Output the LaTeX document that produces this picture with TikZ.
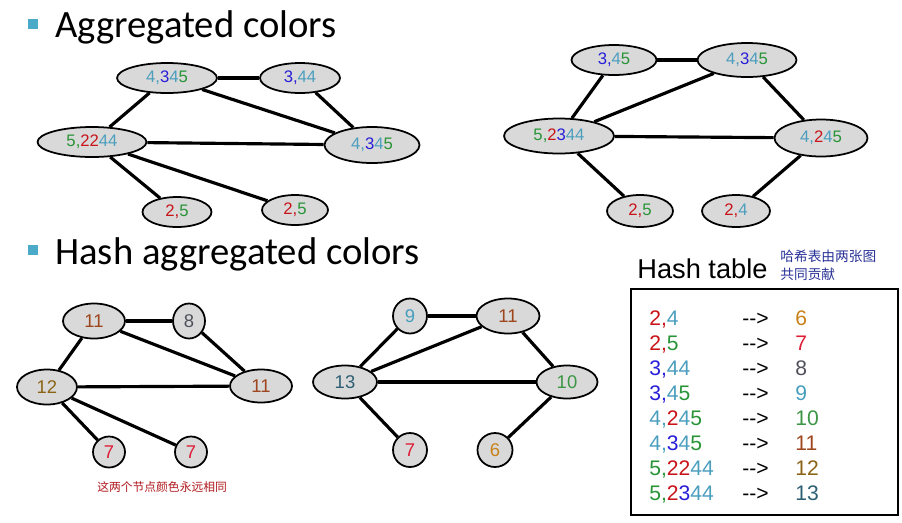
\documentclass[tikz,border=0pt]{standalone}
\usepackage{fontspec}
\setmainfont{Liberation Sans}
\newfontfamily\headfont{Carlito}
\newfontfamily\cjkfont{Noto Sans CJK SC}
\usetikzlibrary{shapes.geometric}

\definecolor{cred}{RGB}{200,20,25}
\definecolor{cblue}{RGB}{40,30,215}
\definecolor{cteal}{RGB}{75,158,190}
\definecolor{cgreen}{RGB}{40,148,55}
\definecolor{hsix}{RGB}{200,130,25}
\definecolor{hseven}{RGB}{222,30,55}
\definecolor{height}{RGB}{80,80,92}
\definecolor{hnine}{RGB}{70,158,190}
\definecolor{hten}{RGB}{60,150,70}
\definecolor{heleven}{RGB}{158,70,30}
\definecolor{htwelve}{RGB}{138,100,20}
\definecolor{hthirteen}{RGB}{45,95,115}
\definecolor{bullet}{RGB}{75,170,200}
\definecolor{nodegray}{RGB}{217,217,217}
\definecolor{noteblue}{RGB}{40,50,150}
\definecolor{notered}{RGB}{175,25,30}

\newcommand{\cR}[1]{\textcolor{cred}{#1}}
\newcommand{\cB}[1]{\textcolor{cblue}{#1}}
\newcommand{\cT}[1]{\textcolor{cteal}{#1}}
\newcommand{\cG}[1]{\textcolor{cgreen}{#1}}

\tikzset{
    agg/.style={ellipse, draw, fill=nodegray, line width=1pt, inner sep=0pt,
        font=\fontsize{9.5}{11}\selectfont},
    hsh/.style={agg, font=\fontsize{10.5}{12}\selectfont},
    link/.style={line width=1.8pt},
    head/.style={anchor=base west, inner sep=0pt, font=\headfont\fontsize{22}{26}\selectfont},
    sq/.style={fill=bullet, minimum size=0.2cm, inner sep=0pt},
    cell/.style={anchor=base west, inner sep=0pt, font=\fontsize{12}{14}\selectfont},
}

\begin{document}
\begin{tikzpicture}[x=0.02cm, y=-0.02cm]
        \useasboundingbox (0,0) rectangle (902,522);

        \node[sq] (s1) at (33,24) {};
        \node[head] (t1) at (55,37) {Aggregated colors};
        \node[sq] (s2) at (33,250) {};
        \node[head] (t2) at (55,264) {Hash aggregated colors};

        \node[agg, minimum width=2cm,    minimum height=0.6cm]  (a1) at (167,78)  {\cT{4,}\cB{3}\cT{4}\cG{5}};
        \node[agg, minimum width=1.6cm,  minimum height=0.6cm]  (a2) at (300,78)  {\cB{3,}\cT{44}};
        \node[agg, minimum width=2.18cm, minimum height=0.6cm]  (a3) at (92,142)  {\cG{5,}\cR{22}\cT{44}};
        \node[agg, minimum width=1.9cm,  minimum height=0.72cm] (a4) at (372,145) {\cT{4,}\cB{3}\cT{4}\cG{5}};
        \node[agg, minimum width=1.38cm, minimum height=0.6cm]  (a5) at (177,212) {\cR{2,}\cG{5}};
        \node[agg, minimum width=1.32cm, minimum height=0.6cm]  (a6) at (295,210) {\cR{2,}\cG{5}};
        \draw[link] (a1) -- (a2);
        \draw[link] (a1) -- (a3);
        \draw[link] (a1) -- (a4);
        \draw[link] (a2) -- (a4);
        \draw[link] (a3) -- (a4);
        \draw[link] (a3) -- (a5);
        \draw[link] (a3) -- (a6);

        \node[agg, minimum width=1.7cm,  minimum height=0.6cm]  (b1) at (614,60)  {\cB{3,}\cT{4}\cG{5}};
        \node[agg, minimum width=1.98cm, minimum height=0.68cm] (b2) at (747,60)  {\cT{4,}\cB{3}\cT{4}\cG{5}};
        \node[agg, minimum width=2.2cm,  minimum height=0.7cm]  (b3) at (559,136) {\cG{5,}\cR{2}\cB{3}\cT{44}};
        \node[agg, minimum width=1.86cm, minimum height=0.74cm] (b4) at (821,138) {\cT{4,}\cR{2}\cT{4}\cG{5}};
        \node[agg, minimum width=1.32cm, minimum height=0.64cm] (b5) at (640,211) {\cR{2,}\cG{5}};
        \node[agg, minimum width=1.36cm, minimum height=0.64cm] (b6) at (736,211) {\cR{2,}\cT{4}};
        \draw[link] (b1) -- (b2);
        \draw[link] (b1) -- (b3);
        \draw[link] (b2) -- (b3);
        \draw[link] (b2) -- (b4);
        \draw[link] (b3) -- (b4);
        \draw[link] (b3) -- (b5);
        \draw[link] (b4) -- (b6);

        \node[hsh, minimum width=1.24cm, minimum height=0.7cm]  (c1) at (94,321)  {\textcolor{heleven}{11}};
        \node[hsh, minimum width=0.64cm, minimum height=0.7cm]  (c2) at (189,321) {\textcolor{height}{8}};
        \node[hsh, minimum width=1.2cm,  minimum height=0.7cm]  (c3) at (47,387)  {\textcolor{htwelve}{12}};
        \node[hsh, minimum width=1.24cm, minimum height=0.66cm] (c4) at (261,386) {\textcolor{heleven}{11}};
        \node[hsh, minimum width=0.64cm, minimum height=0.62cm] (c5) at (109,452) {\textcolor{hseven}{7}};
        \node[hsh, minimum width=0.64cm, minimum height=0.62cm] (c6) at (191,452) {\textcolor{hseven}{7}};
        \draw[link] (c1) -- (c2);
        \draw[link] (c1) -- (c3);
        \draw[link] (c1) -- (c4);
        \draw[link] (c2) -- (c4);
        \draw[link] (c3) -- (c4);
        \draw[link] (c3) -- (c5);
        \draw[link] (c3) -- (c6);

        \node[hsh, minimum width=0.68cm, minimum height=0.7cm]  (d1) at (410,316) {\textcolor{hnine}{9}};
        \node[hsh, minimum width=1.26cm, minimum height=0.7cm]  (d2) at (508,316) {\textcolor{heleven}{11}};
        \node[hsh, minimum width=1.28cm, minimum height=0.66cm] (d3) at (345,382) {\textcolor{hthirteen}{13}};
        \node[hsh, minimum width=1.22cm, minimum height=0.66cm] (d4) at (567,382) {\textcolor{hten}{10}};
        \node[hsh, minimum width=0.68cm, minimum height=0.68cm] (d5) at (410,450) {\textcolor{hseven}{7}};
        \node[hsh, minimum width=0.7cm,  minimum height=0.68cm] (d6) at (495,450) {\textcolor{hsix}{6}};
        \draw[link] (d1) -- (d2);
        \draw[link] (d1) -- (d3);
        \draw[link] (d2) -- (d3);
        \draw[link] (d2) -- (d4);
        \draw[link] (d3) -- (d4);
        \draw[link] (d3) -- (d5);
        \draw[link] (d4) -- (d6);

        \node[anchor=base west, inner sep=0pt, text=notered, font=\cjkfont\fontsize{6.7}{8}\selectfont]
            (n1) at (97,491) {这两个节点颜色永远相同};

        \node[anchor=base west, inner sep=0pt, font=\fontsize{15.5}{18}\selectfont] (t3) at (637,278) {Hash table};
        \node[anchor=base west, inner sep=0pt, text=noteblue, font=\cjkfont\fontsize{7.8}{9}\selectfont]
            (n2) at (780,261) {哈希表由两张图};
        \node[anchor=base west, inner sep=0pt, text=noteblue, font=\cjkfont\fontsize{7.8}{9}\selectfont]
            (n3) at (780,279) {共同贡献};
        \draw[line width=1.2pt] (631,289) rectangle (898,515);

        \node[cell] (k1) at (649,325) {\cR{2,}\cT{4}};
        \node[cell] (k2) at (649,350) {\cR{2,}\cG{5}};
        \node[cell] (k3) at (649,375) {\cB{3,}\cT{44}};
        \node[cell] (k4) at (649,400) {\cB{3,}\cT{4}\cG{5}};
        \node[cell] (k5) at (649,425) {\cT{4,}\cR{2}\cT{4}\cG{5}};
        \node[cell] (k6) at (649,450) {\cT{4,}\cB{3}\cT{4}\cG{5}};
        \node[cell] (k7) at (649,475) {\cG{5,}\cR{22}\cT{44}};
        \node[cell] (k8) at (649,500) {\cG{5,}\cR{2}\cB{3}\cT{44}};
        \node[cell] (r1) at (742,325) {-{}->};
        \node[cell] (r2) at (742,350) {-{}->};
        \node[cell] (r3) at (742,375) {-{}->};
        \node[cell] (r4) at (742,400) {-{}->};
        \node[cell] (r5) at (742,425) {-{}->};
        \node[cell] (r6) at (742,450) {-{}->};
        \node[cell] (r7) at (742,475) {-{}->};
        \node[cell] (r8) at (742,500) {-{}->};
        \node[cell] (v1) at (795,325) {\textcolor{hsix}{6}};
        \node[cell] (v2) at (795,350) {\textcolor{hseven}{7}};
        \node[cell] (v3) at (795,375) {\textcolor{height}{8}};
        \node[cell] (v4) at (795,400) {\textcolor{hnine}{9}};
        \node[cell] (v5) at (795,425) {\textcolor{hten}{10}};
        \node[cell] (v6) at (795,450) {\textcolor{heleven}{11}};
        \node[cell] (v7) at (795,475) {\textcolor{htwelve}{12}};
        \node[cell] (v8) at (795,500) {\textcolor{hthirteen}{13}};
    \end{tikzpicture}
\end{document}
